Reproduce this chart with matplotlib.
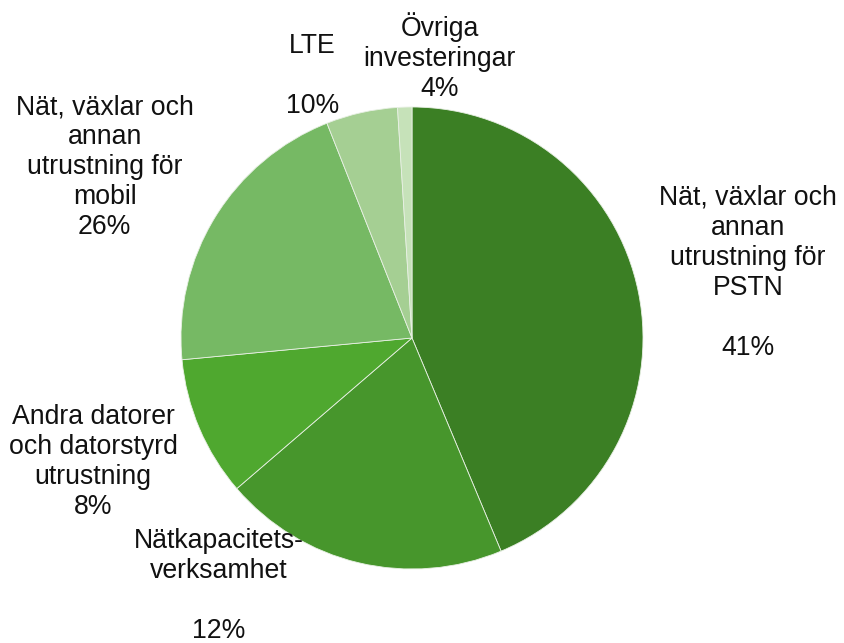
import matplotlib.pyplot as plt

# slice sizes as drawn (share of investments, %)
values = [43.7, 20.0, 9.8, 20.5, 5.0, 1.0]
# labels as printed on the chart
labels = ['Nät, växlar och\nannan\nutrustning för\nPSTN\n\n41%',
          'Nätkapacitets-\nverksamhet\n\n12%',
          'Andra datorer\noch datorstyrd\nutrustning\n8%',
          'Nät, växlar och\nannan\nutrustning för\nmobil\n26%',
          'LTE\n\n10%',
          'Övriga\ninvesteringar\n4%']
colors = ['#3b7f24', '#47962c', '#4fa82f', '#76b964', '#a5cf93', '#c6e2b9']

# label centres in pie-radius units (centre 0,0)
label_x = [1.455, -0.835, -1.38, -1.33, -0.43, 0.12]
label_y = [0.283, -1.074, -0.537, 0.740, 1.134, 1.216]

plt.rcParams['font.family'] = ['Liberation Sans', 'DejaVu Sans']

fig = plt.figure(figsize=(8.45, 6.43), dpi=100)
ax = fig.add_axes([0, 0, 1, 1])
ax.pie(values, colors=colors, startangle=90, counterclock=False, radius=1,
       wedgeprops=dict(edgecolor='#e8f0e4', linewidth=0.6))

for txt, x, y in zip(labels, label_x, label_y):
    ax.text(x, y, txt, ha='center', va='center', fontsize=19.2,
            linespacing=1.2, color='#111111')

ax.set_xlim(-412 / 231, (845 - 412) / 231)
ax.set_ylim(-(643 - 338) / 231, 338 / 231)
ax.axis('off')

fig.savefig('out.png', dpi=100, facecolor='white')
